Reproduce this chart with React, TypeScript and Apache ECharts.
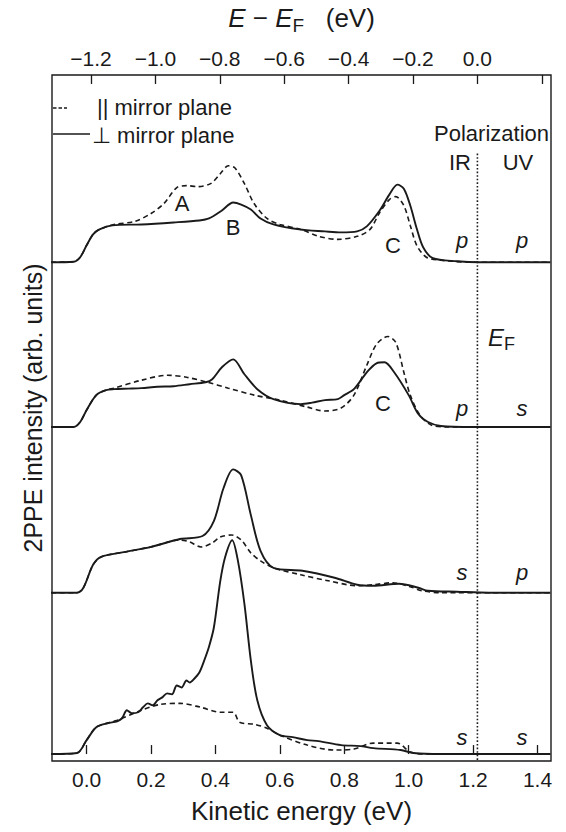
import React, { useEffect, useRef } from "react";
import * as echarts from "echarts";

// Axis ticks
const keTicks = [0, 0.2, 0.4, 0.6, 0.8, 1.0, 1.2, 1.4];
const efTicks = [-1.2, -1.0, -0.8, -0.6, -0.4, -0.2, 0.0, 0.2];
const efLabels = [-1.2, -1.0, -0.8, -0.6, -0.4, -0.2, 0.0];
const fermiKE = 1.2135; // kinetic energy at E_F
const keMin = -0.1075;
const keMax = 1.442;

// vertical offsets of the four spectra (arb. units)
const baselines = [494.7, 329, 162.3, 0];
const yMin = -7;
const yMax = 683;
const fermiLineTop = 604;

// Spectrum 1 (IR p, UV p)
const s1Par: number[][] = [[-0.11,0],[-0.04,0.5],[-0.02,5],[0.0,17],[0.02,28],[0.04,33],[0.085,38],[0.15,41],[0.2,49],[0.24,59],[0.28,75],[0.31,77],[0.345,76],[0.385,79],[0.415,89],[0.44,97],[0.46,95],[0.49,79],[0.52,59],[0.56,44],[0.6,38],[0.665,33],[0.72,26],[0.78,23],[0.84,26],[0.88,33],[0.91,50],[0.94,63],[0.96,66],[0.985,57],[1.005,37],[1.025,17],[1.055,5],[1.1,2],[1.2,0],[1.44,0]];
const s1Perp: number[][] = [[-0.11,0],[-0.04,0.5],[-0.02,5],[0.0,17],[0.02,28],[0.04,33],[0.08,37],[0.17,38],[0.27,40],[0.35,42],[0.38,44],[0.42,52],[0.455,60],[0.48,58],[0.51,53],[0.54,44],[0.58,38],[0.66,33],[0.74,31],[0.79,30],[0.84,31],[0.87,36],[0.91,52],[0.94,68],[0.965,78],[0.985,74],[1.005,57],[1.025,34],[1.045,15],[1.075,4],[1.15,1],[1.22,0],[1.44,0]];

// Spectrum 2 (IR p, UV s)
const s2Par: number[][] = [[-0.11,0],[-0.04,0],[-0.02,5],[0.0,17],[0.03,32],[0.06,37],[0.085,39],[0.17,47],[0.25,52],[0.31,50],[0.375,45],[0.44,39],[0.52,32],[0.6,27],[0.685,20],[0.74,16],[0.79,19],[0.83,32],[0.87,62],[0.9,83],[0.935,91],[0.96,85],[0.985,55],[1.005,32],[1.035,12],[1.07,2],[1.12,0],[1.44,0]];
const s2Perp: number[][] = [[-0.11,0],[-0.04,0],[-0.02,5],[0.0,17],[0.03,32],[0.06,37],[0.085,38],[0.13,38.5],[0.17,39],[0.22,40.5],[0.27,41],[0.32,43],[0.37,45],[0.39,48],[0.42,60],[0.455,68],[0.49,53],[0.53,38],[0.58,28],[0.665,23],[0.7,24.5],[0.74,27],[0.78,28],[0.8,32],[0.83,38],[0.87,55],[0.9,64],[0.925,65],[0.955,55],[1.0,32],[1.03,13],[1.06,5],[1.1,1],[1.2,0],[1.44,0]];

// Spectrum 3 (IR s, UV p)
const s3Par: number[][] = [[-0.11,0],[-0.03,0],[-0.01,5],[0.02,28],[0.045,36],[0.12,41],[0.2,46],[0.29,53],[0.32,51],[0.355,46],[0.39,50],[0.415,56],[0.45,58],[0.48,53],[0.51,40],[0.54,32],[0.58,25],[0.665,18],[0.75,12],[0.84,7],[0.89,8],[0.95,10],[1.005,6],[1.04,2],[1.1,0],[1.44,0]];
const s3Perp: number[][] = [[-0.11,0],[-0.03,0],[-0.01,5],[0.02,28],[0.045,36],[0.12,41],[0.2,46],[0.29,54],[0.36,57],[0.395,72],[0.425,105],[0.455,124],[0.48,118],[0.51,78],[0.54,42],[0.58,25],[0.67,22],[0.77,15],[0.84,8],[0.89,7],[0.97,9],[1.03,5],[1.06,2],[1.15,1],[1.25,0],[1.44,0]];

// Spectrum 4 (IR s, UV s)
const s4Par: number[][] = [[-0.11,0],[-0.03,1],[0.0,14],[0.03,27],[0.095,34],[0.17,44],[0.23,50],[0.29,51],[0.355,47],[0.415,42],[0.455,42],[0.475,32],[0.52,30],[0.56,26],[0.6,19],[0.685,9],[0.77,4],[0.83,5],[0.89,11],[0.965,11],[1.005,2],[1.05,0],[1.44,0]];
const s4Perp: number[][] = [[-0.11,0],[-0.03,1],[0.0,14],[0.03,27],[0.065,31],[0.095,33],[0.11,36],[0.125,44],[0.14,41],[0.16,42],[0.175,47],[0.19,51],[0.205,49],[0.22,54],[0.235,57],[0.25,61],[0.265,60],[0.28,69],[0.295,67],[0.31,74],[0.32,72],[0.335,76],[0.35,82],[0.365,94],[0.38,108],[0.395,127],[0.415,174],[0.43,198],[0.452,215],[0.47,194],[0.49,151],[0.51,94],[0.53,54],[0.56,29],[0.6,19],[0.64,17],[0.685,14],[0.72,13],[0.79,9],[0.85,8],[0.89,6],[0.975,4],[1.015,1],[1.1,0],[1.44,0]];

const parallel = [s1Par, s2Par, s3Par, s4Par];
const perpendicular = [s1Perp, s2Perp, s3Perp, s4Perp];

const polLabels = [["p", "p"], ["p", "s"], ["s", "p"], ["s", "s"]];

const FONT = "'Liberation Sans', Arial, Helvetica, sans-serif";
const INK = "#1a1a1a";
const ANN = 22; // annotation font size

export default function App() {
  const ref = useRef<HTMLDivElement>(null);
  useEffect(() => {
    document.body.style.margin = "0";
    if (!ref.current) return;
    const chart = echarts.init(ref.current, undefined, { renderer: "svg" });

    const series: any[] = [];
    parallel.forEach((arr, i) => {
      series.push({
        type: "line",
        name: "par" + i,
        xAxisIndex: 0,
        yAxisIndex: 0,
        data: arr.map(([x, v]) => [x, v + baselines[i]]),
        showSymbol: false,
        smooth: 0.3,
        lineStyle: { color: INK, width: 1.6, type: [5, 3.5] },
        z: 2,
      });
    });
    perpendicular.forEach((arr, i) => {
      series.push({
        type: "line",
        name: "perp" + i,
        xAxisIndex: 0,
        yAxisIndex: 0,
        data: arr.map(([x, v]) => [x, v + baselines[i]]),
        showSymbol: false,
        smooth: 0.3,
        lineStyle: { color: INK, width: 1.9, type: "solid" },
        z: 3,
      });
    });
    // Fermi level dotted line (E - EF = 0 on the top axis)
    series.push({
      type: "line",
      name: "EF",
      xAxisIndex: 1,
      yAxisIndex: 0,
      data: [[0, fermiLineTop], [0, yMin]],
      showSymbol: false,
      lineStyle: { color: INK, width: 1.6, type: [1.6, 2] },
      z: 1,
    });

    const txt = (x: number, y: number, text: string, extra: any = {}) => ({
      type: "text",
      x,
      y,
      style: {
        text,
        fill: INK,
        font: `${ANN}px ${FONT}`,
        align: "center",
        verticalAlign: "middle",
        ...extra,
      },
    });
    const italic = { font: `italic ${ANN}px ${FONT}` };

    const graphics: any[] = [
      // y axis title
      {
        type: "text",
        x: 33,
        y: 408,
        rotation: Math.PI / 2,
        style: {
          text: "2PPE intensity (arb. units)",
          fill: INK,
          font: `25px ${FONT}`,
          align: "center",
          verticalAlign: "middle",
        },
      },
      // legend
      {
        type: "line",
        shape: { x1: 53, y1: 108, x2: 67, y2: 108 },
        style: { stroke: INK, lineWidth: 1.5, lineDash: [3.5, 2] },
      },
      txt(97, 107, "|| mirror plane", { align: "left" }),
      {
        type: "line",
        shape: { x1: 53, y1: 134, x2: 90, y2: 134 },
        style: { stroke: INK, lineWidth: 1.7 },
      },
      txt(92, 135, "\u22A5 mirror plane", { align: "left" }),
      txt(549, 133, "Polarization", { align: "right" }),
      txt(460, 162, "IR"),
      txt(518, 162, "UV"),
      txt(182, 203, "A"),
      txt(233, 227, "B"),
      txt(393, 245, "C"),
      txt(383, 403, "C"),
      {
        type: "text",
        x: 488,
        y: 337,
        style: {
          text: "{e|E}{f|F}",
          fill: INK,
          align: "left",
          verticalAlign: "middle",
          rich: {
            e: { font: `italic 24px ${FONT}`, fill: INK },
            f: { font: `18px ${FONT}`, fill: INK, padding: [14, 0, 0, 0] },
          },
        },
      },
    ];
    const rowY = [240, 408, 572, 737];
    polLabels.forEach(([ir, uv], i) => {
      graphics.push(txt(462, rowY[i], ir, italic));
      graphics.push(txt(522, rowY[i], uv, italic));
    });

    chart.setOption({
      animation: false,
      backgroundColor: "#ffffff",
      textStyle: { fontFamily: FONT, color: INK },
      grid: {
        left: 52,
        right: 15,
        top: 71,
        bottom: 71,
        show: true,
        borderColor: INK,
        borderWidth: 1.4,
        backgroundColor: "transparent",
        containLabel: false,
      },
      xAxis: [
        {
          type: "value",
          position: "bottom",
          min: keMin,
          max: keMax,
          name: "Kinetic energy (eV)",
          nameLocation: "middle",
          nameGap: 37,
          nameTextStyle: { fontSize: 26, color: INK, fontFamily: FONT },
          axisLine: { show: false },
          splitLine: { show: false },
          axisTick: {
            show: true,
            inside: true,
            length: 9,
            customValues: keTicks,
            lineStyle: { color: INK, width: 1.3 },
          },
          axisLabel: {
            show: true,
            customValues: keTicks,
            margin: 8,
            fontSize: 21,
            color: INK,
            fontFamily: FONT,
            formatter: (v: number) => v.toFixed(1),
          },
        },
        {
          type: "value",
          position: "top",
          min: keMin - fermiKE,
          max: keMax - fermiKE,
          name: "{i|E} \u2212 {i|E}{s|F}   (eV)",
          nameLocation: "middle",
          nameGap: 40,
          nameTextStyle: {
            fontSize: 26,
            color: INK,
            fontFamily: FONT,
            rich: {
              i: { fontStyle: "italic", fontSize: 26, fontFamily: FONT, color: INK },
              s: { fontSize: 19, fontFamily: FONT, color: INK, padding: [15, 0, 0, 0] },
            },
          },
          axisLine: { show: false },
          splitLine: { show: false },
          axisTick: {
            show: true,
            inside: true,
            length: 9,
            customValues: efTicks,
            lineStyle: { color: INK, width: 1.3 },
          },
          axisLabel: {
            show: true,
            customValues: efLabels,
            margin: 6,
            fontSize: 21,
            color: INK,
            fontFamily: FONT,
            formatter: (v: number) =>
              (v < -1e-9 ? "\u2212" : "") + Math.abs(v).toFixed(1),
          },
        },
      ],
      yAxis: [
        {
          type: "value",
          min: yMin,
          max: yMax,
          show: false,
          splitLine: { show: false },
        },
      ],
      series,
      graphic: graphics,
    });

    return () => {
      chart.dispose();
    };
  }, []);

  return (
    <div
      ref={ref}
      style={{ position: "absolute", left: 0, top: 0, width: 566, height: 832 }}
    />
  );
}
